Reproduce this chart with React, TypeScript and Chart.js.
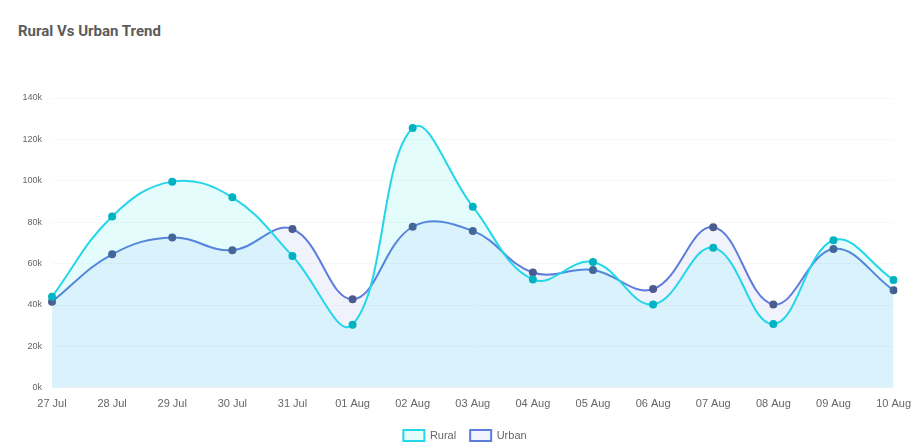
import React, { useEffect, useRef } from "react";
import { Chart, registerables } from "chart.js";

Chart.register(...registerables);

const categories = ["27 Jul", "28 Jul", "29 Jul", "30 Jul", "31 Jul", "01 Aug", "02 Aug", "03 Aug", "04 Aug", "05 Aug", "06 Aug", "07 Aug", "08 Aug", "09 Aug", "10 Aug"];
const ruralValues = [44000, 82800, 99600, 92000, 63700, 30500, 125500, 87500, 52300, 60800, 40300, 67700, 30800, 71300, 52100];
const urbanValues = [41600, 64500, 72600, 66500, 76700, 42800, 77800, 75800, 55700, 56900, 47700, 77600, 40300, 67100, 47100];
const yTicks = [0, 20000, 40000, 60000, 80000, 100000, 120000, 140000];

export default function App() {
  const ref = useRef<HTMLCanvasElement | null>(null);

  useEffect(() => {
    document.body.style.margin = "0";
    const canvas = ref.current;
    if (!canvas) return;
    const chart = new Chart(canvas, {
      type: "line",
      data: {
        labels: categories,
        datasets: [
          {
            label: "Rural",
            data: ruralValues,
            borderColor: "rgb(36,214,234)",
            backgroundColor: "rgba(0,227,240,0.1)",
            borderWidth: 2,
            fill: "origin",
            tension: 0.4,
            pointRadius: 4,
            pointBackgroundColor: "#00b2c2",
            pointBorderColor: "#00b2c2",
            pointBorderWidth: 0,
          },
          {
            label: "Urban",
            data: urbanValues,
            borderColor: "rgb(94,124,219)",
            backgroundColor: "rgba(80,100,220,0.08)",
            borderWidth: 2,
            fill: "origin",
            tension: 0.4,
            pointRadius: 4,
            pointBackgroundColor: "#4b5b8f",
            pointBorderColor: "#4b5b8f",
            pointBorderWidth: 0,
          },
        ],
      },
      options: {
        responsive: false,
        animation: false,
        layout: { padding: { top: 98, right: 0, left: 17, bottom: 0 } },
        plugins: {
          title: { display: false },
          tooltip: { enabled: false },
          legend: {
            position: "bottom",
            labels: {
              boxWidth: 21,
              boxHeight: 11,
              padding: 14,
              color: "#666",
              font: { family: "'Liberation Sans', Arial, sans-serif", size: 11 },
            },
          },
        },
        scales: {
          x: {
            afterFit: (scale: any) => {
              scale.height += 3;
            },
            grid: { display: false },
            border: { display: false },
            ticks: {
              color: "#666",
              maxRotation: 0,
              autoSkip: false,
              padding: 2,
              font: { family: "'Liberation Sans', Arial, sans-serif", size: 11 },
            },
          },
          y: {
            min: 0,
            max: 140000,
            afterFit: (scale: any) => {
              scale.width = 35;
            },
            afterBuildTicks: (scale: any) => {
              scale.ticks = yTicks.map((v) => ({ value: v }));
            },
            grid: { color: "rgba(0,0,0,0.03)", drawTicks: false },
            border: { display: false },
            ticks: {
              color: "#666",
              padding: 10,
              font: { family: "'Liberation Sans', Arial, sans-serif", size: 9 },
              callback: (v: any) => `${Number(v) / 1000}k`,
            },
          },
        },
      },
    });
    return () => chart.destroy();
  }, []);

  return (
    <div style={{ position: "relative", width: 913, height: 444, overflow: "hidden" }}>
      <div
        style={{
          position: "absolute",
          left: 18,
          top: 22,
          fontFamily: "Roboto, 'Liberation Sans', sans-serif",
          fontWeight: 700,
          fontSize: 15,
          color: "#5b5b5b",
        }}
      >
        Rural Vs Urban Trend
      </div>
      <canvas ref={ref} width={913} height={451} style={{ position: "absolute", left: 0, top: 0 }} />
    </div>
  );
}
